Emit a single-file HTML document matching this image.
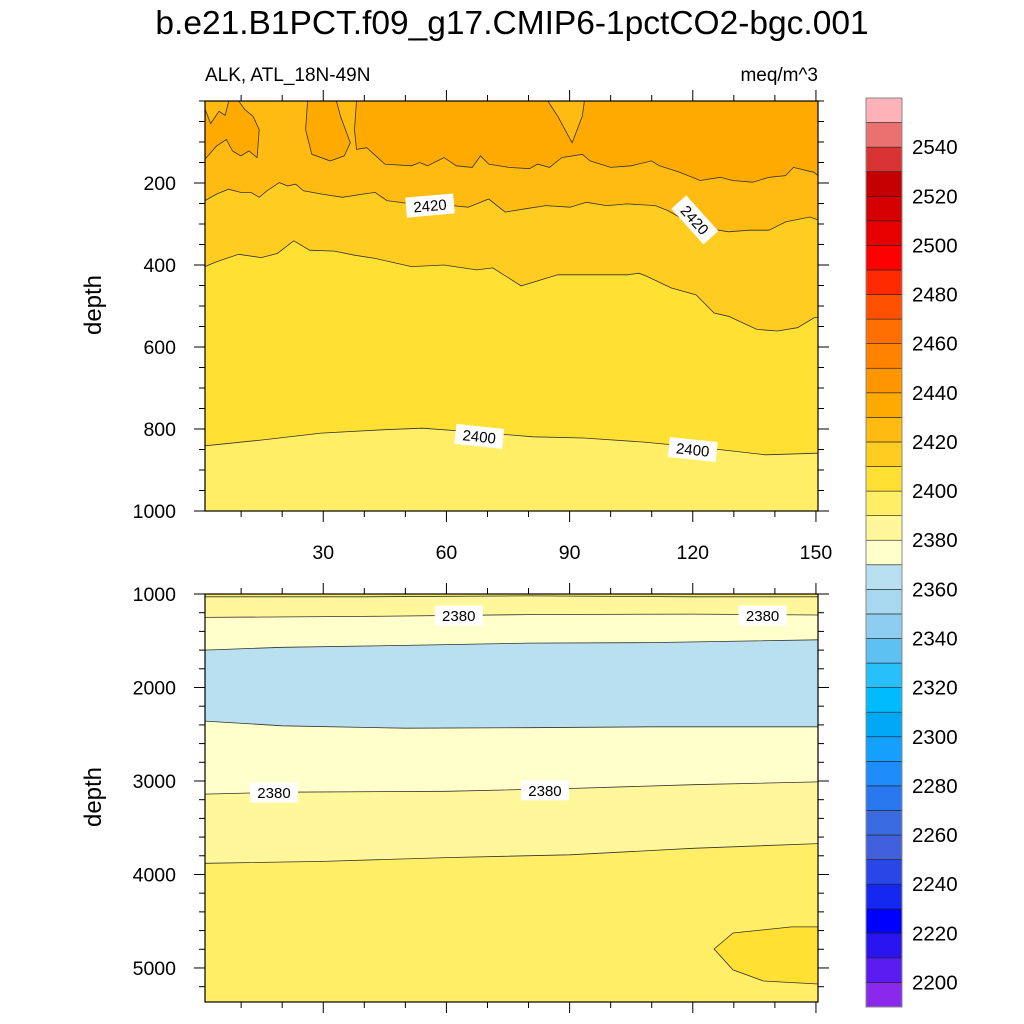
<!DOCTYPE html>
<html><head><meta charset="utf-8">
<style>
html,body{margin:0;padding:0;background:#fff;}
svg{display:block;font-family:"Liberation Sans",Arial,sans-serif;}
</style></head>
<body>
<svg id="chart" width="1024" height="1024" viewBox="0 0 1024 1024" xmlns="http://www.w3.org/2000/svg">
<text x="512" y="34" text-anchor="middle" font-size="33.5">b.e21.B1PCT.f09_g17.CMIP6-1pctCO2-bgc.001</text>
<text x="205" y="81" font-size="19">ALK, ATL_18N-49N</text>
<text x="818" y="81" font-size="19" text-anchor="end">meq/m^3</text>
<text transform="translate(101,305) rotate(-90)" text-anchor="middle" font-size="24">depth</text>
<text transform="translate(101,797) rotate(-90)" text-anchor="middle" font-size="24">depth</text>
<g id="top"></g>
<g id="bot"></g>
<g id="cbar"></g>
</svg>
<script>
// ---- data ----
const latMin = 1.2, latMax = 150.5;
const xTickLabels = [30, 60, 90, 120, 150];
const topYTicks = [200, 400, 600, 800, 1000];
const botYTicks = [1000, 2000, 3000, 4000, 5000];
const cbarLevels = [2190,2200,2210,2220,2230,2240,2250,2260,2270,2280,2290,2300,2310,2320,2330,2340,2350,2360,2370,2380,2390,2400,2410,2420,2430,2440,2450,2460,2470,2480,2490,2500,2510,2520,2530,2540,2550];
const cbarColors = ["#8a28ec","#5a1cf0","#2a14f0","#0000ff","#1428f0","#2a46e6","#4060dc","#3a6ae0","#2a78f0","#1e8cfa","#13a0ff","#00a8f5","#00bcff","#28c0fa","#5fc0f2","#8ecdf0","#a8d8f0","#b9e0f0","#ffffcc","#fff799","#ffee66","#ffe033","#ffcc22","#ffbb11","#ffaa00","#ff9600","#ff8200","#ff6e00","#ff5000","#ff2a00","#ff0000","#e80000","#d60000","#c40000","#d93333","#eb7070","#ffb3b8"];
const cbarLabels = [2200,2220,2240,2260,2280,2300,2320,2340,2360,2380,2400,2420,2440,2460,2480,2500,2520,2540];

// top panel contours [lat, depth]
const top2400 = [[1.2,841],[14.8,827],[29.5,810],[44.3,802],[54.1,798],[66.4,807],[81.1,819],[93.4,822],[108.2,832],[122.9,846],[137.7,863],[150.5,859]];
const top2410 = [[1.2,404],[4,392],[9.4,374],[14.9,382],[18.8,372],[22.8,341],[26.7,364],[32.7,366],[37.6,376],[42.6,384],[51.5,404],[59.4,400],[67.3,412],[71.3,407],[78.2,451],[87.1,424],[94.1,424],[104,424],[106.9,420],[108.9,428],[114.8,456],[120.8,473],[125.2,517],[128.7,525],[135.6,557],[140.6,561],[145.5,553],[149.5,529],[150.5,527]];
const top2420 = [[1.2,243],[4,227],[6.9,215],[9.9,223],[12.4,223],[14.4,235],[16.3,219],[19.3,199],[21.3,207],[23.3,203],[25.2,219],[29.7,227],[34.7,235],[39.6,227],[42.6,223],[45.5,243],[51.5,251],[61.4,255],[65.3,259],[70.3,239],[74.3,271],[79.2,263],[84.2,255],[90.1,259],[94.1,247],[99,255],[104,251],[110.9,255],[113.9,267],[118.8,295],[123.8,311],[128.7,319],[133.7,315],[138.6,315],[142.6,295],[148.5,283],[150.5,290]];
const top2430a = [[1.2,0],[1.2,142],[4,110],[6.4,94],[7.9,122],[9.9,134],[11.9,122],[13.9,138],[14.4,70],[12.9,37],[10.9,21],[9.4,0]];
const top2430b = [[26.2,0],[25.7,70],[27.2,130],[31.7,146],[35.1,134],[36.6,102],[34.2,37],[33.2,0]];
const top2430c = [[38.1,0],[37.6,70],[38.1,118],[40.6,114],[45,154],[51.5,158],[53.5,150],[55.4,158],[59.4,138],[62.4,158],[66.3,162],[68.3,134],[70.3,154],[75.2,162],[80.2,165],[82.2,154],[85.1,162],[88.1,138],[93.1,130],[95,146],[100,162],[105,158],[109.9,146],[111.9,158],[116.8,174],[121.8,194],[126.7,186],[129.7,194],[134.6,198],[138.6,186],[142.6,182],[144.5,162],[149.5,174],[150.5,182],[150.5,0]];
const topHoleA = [[1.2,0],[1.2,20],[2.6,55],[4.6,25],[6.1,35],[7,0]];
const topHoleC = [[84.7,0],[87.1,37],[90.6,102],[93.1,37],[93.6,0]];
const topLabels = [[56,255,-5,"2420"],[120.5,290,48,"2420"],[68,818,6,"2400"],[120,850,6,"2400"]];

// bottom panel contours
const bot2390a = [[1.2,1030],[40,1030],[80,1020],[120,1030],[150.5,1030]];
const bot2380a = [[1.2,1250],[40,1240],[80,1220],[120,1215],[150.5,1225]];
const bot2370a = [[1.2,1600],[20,1570],[50,1550],[80,1525],[110,1520],[150.5,1490]];
const bot2370b = [[1.2,2360],[20,2410],[50,2435],[80,2430],[110,2420],[150.5,2420]];
const bot2380b = [[1.2,3140],[20,3120],[60,3110],[90,3080],[120,3040],[150.5,3010]];
const bot2390b = [[1.2,3880],[30,3860],[60,3820],[90,3790],[120,3720],[150.5,3670]];
const bot2400 = [[150.5,4561],[144.1,4561],[129.8,4626],[125.2,4797],[129.8,5021],[137.2,5139],[150.5,5171]];
const botLabels = [[63,1230,0,"2380"],[137,1230,0,"2380"],[18,3125,0,"2380"],[84,3100,0,"2380"]];

// ---- drawing ----
const NS="http://www.w3.org/2000/svg";
function mk(tag, attrs, parent){const e=document.createElementNS(NS,tag);for(const k in attrs)e.setAttribute(k,attrs[k]);parent.appendChild(e);return e;}
const X0=205,X1=818;
const xs = lat => X0 + (lat-latMin)/(latMax-latMin)*(X1-X0);
const PT={y0:101,y1:511,d0:0,d1:1000};
const PB={y0:594,y1:1002,d0:1000,d1:5364};
const ysf = P => d => P.y0 + (d-P.d0)/(P.d1-P.d0)*(P.y1-P.y0);
const yT=ysf(PT), yB=ysf(PB);
function pts(line, ys){return line.map(p=>xs(p[0]).toFixed(1)+","+ys(p[1]).toFixed(1)).join(" ");}

function fillAbove(g, line, ys, dTop, color, name){
  const poly=line.concat([[latMax,dTop],[latMin,dTop]]);
  const e=mk("polygon",{points:pts(poly,ys),fill:color},g);
  
  
}
function fillPoly(g, poly, ys, color, name){
  const e=mk("polygon",{points:pts(poly,ys),fill:color,stroke:"#333","stroke-width":0.8},g);
  
  
}
function stroke(g, line, ys, name){
  const e=mk("polyline",{points:pts(line,ys),fill:"none",stroke:"#333","stroke-width":0.8},g);
  
  
}
function label(g, l, ys, name){
  const x=xs(l[0]), y=ys(l[1]);
  const gg=mk("g",{transform:`translate(${x},${y}) rotate(${l[2]})`},g);
  
  
  mk("rect",{x:-24,y:-10,width:48,height:20,fill:"#fff"},gg);
  const t=mk("text",{x:0,y:5.5,"text-anchor":"middle","font-size":15},gg);
  t.textContent=l[3];
}
function axes(g, P, ys, majors, minorStep, showX){
  const frame=mk("rect",{x:X0,y:P.y0,width:X1-X0,height:P.y1-P.y0,fill:"none",stroke:"#000","stroke-width":1.2},g);
  
  
  for(let lat=10;lat<=150;lat+=10){
    const x=xs(lat), len=(lat%30===0)?11:6;
    mk("line",{x1:x,x2:x,y1:P.y0,y2:P.y0-len,stroke:"#000","stroke-width":1},g);
    mk("line",{x1:x,x2:x,y1:P.y1,y2:P.y1+len,stroke:"#000","stroke-width":1},g);
  }
  if(showX){
    xTickLabels.forEach(v=>{
      const t=mk("text",{x:xs(v),y:P.y1+48,"text-anchor":"middle","font-size":19.5},g);
      
      
      t.textContent=v;
    });
  }
  for(let d=Math.ceil(P.d0/minorStep)*minorStep; d<=P.d1; d+=minorStep){
    const y=ys(d); const maj=majors.includes(d); const len=maj?11:6;
    if(y<P.y0-0.5||y>P.y1+0.5) continue;
    mk("line",{x1:X0,x2:X0-len,y1:y,y2:y,stroke:"#000","stroke-width":1},g);
    mk("line",{x1:X1,x2:X1+len,y1:y,y2:y,stroke:"#000","stroke-width":1},g);
  }
  majors.forEach(v=>{
    const t=mk("text",{x:X0-29,y:ys(v)+7,"text-anchor":"end","font-size":19.5},g);
    
    
    t.textContent=v;
  });
}

// top panel
const gt=document.getElementById("top");
const clipT=mk("clipPath",{id:"ct"},gt); mk("rect",{x:X0,y:PT.y0,width:X1-X0,height:PT.y1-PT.y0},clipT);
const gtc=mk("g",{"clip-path":"url(#ct)"},gt);
const bg=mk("rect",{x:X0,y:PT.y0,width:X1-X0,height:PT.y1-PT.y0,fill:"#ffee66"},gtc);


fillAbove(gtc, top2400, yT, 0, "#ffe033", "band-2400");
fillAbove(gtc, top2410, yT, 0, "#ffcc22", "band-2410");
fillAbove(gtc, top2420, yT, 0, "#ffbb11", "band-2420");
fillPoly(gtc, top2430a, yT, "#ffaa00", "band-2430-left");
fillPoly(gtc, top2430b, yT, "#ffaa00", "band-2430-tongue");
fillPoly(gtc, top2430c, yT, "#ffaa00", "band-2430-main");
fillPoly(gtc, topHoleA, yT, "#ffbb11", "band-2420-intrusion-left");
fillPoly(gtc, topHoleC, yT, "#ffbb11", "band-2420-intrusion-mid");
stroke(gtc, top2400, yT, "contour-2400");
stroke(gtc, top2410, yT, "contour-2410");
stroke(gtc, top2420, yT, "contour-2420");
topLabels.forEach(l=>label(gtc,l,yT,"contour-label"));
axes(gt, PT, yT, topYTicks, 50, true);

// bottom panel
const gb=document.getElementById("bot");
const clipB=mk("clipPath",{id:"cb"},gb); mk("rect",{x:X0,y:PB.y0,width:X1-X0,height:PB.y1-PB.y0},clipB);
const gbc=mk("g",{"clip-path":"url(#cb)"},gb);
const bg2=mk("rect",{x:X0,y:PB.y0,width:X1-X0,height:PB.y1-PB.y0,fill:"#ffee66"},gbc);


fillAbove(gbc, bot2390b, yB, 900, "#fff799", "band-2380-deep");
fillAbove(gbc, bot2380b, yB, 900, "#ffffcc", "band-2370-deep");
fillAbove(gbc, bot2370b, yB, 900, "#b9e0f0", "band-2360");
fillAbove(gbc, bot2370a, yB, 900, "#ffffcc", "band-2370-upper");
fillAbove(gbc, bot2380a, yB, 900, "#fff799", "band-2380-upper");
fillAbove(gbc, bot2390a, yB, 900, "#ffee66", "band-2390-upper");
fillPoly(gbc, bot2400, yB, "#ffe033", "band-2400-deep");
[bot2390a,bot2380a,bot2370a,bot2370b,bot2380b,bot2390b].forEach(l=>stroke(gbc,l,yB,"contour-line"));
botLabels.forEach(l=>label(gbc,l,yB,"contour-label"));
axes(gb, PB, yB, botYTicks, 200, false);

// colorbar
const gc=document.getElementById("cbar");
const CX=866, CW=36, CY0=98, CY1=1007;
const bh=(CY1-CY0)/cbarLevels.length;
const cy = v => CY1 - (v-cbarLevels[0])/10*bh;
cbarLevels.forEach((v,i)=>{
  const r=mk("rect",{x:CX,y:cy(v)-bh,width:CW,height:bh,fill:cbarColors[i],stroke:"#222","stroke-width":0.6},gc);
  
  
});
const cf=mk("rect",{x:CX,y:CY0,width:CW,height:CY1-CY0,fill:"none",stroke:"#888","stroke-width":1},gc);


cbarLabels.forEach(v=>{
  const t=mk("text",{x:912,y:cy(v)+7,"font-size":20.5},gc);
  
  
  t.textContent=v;
});
</script>
</body></html>
